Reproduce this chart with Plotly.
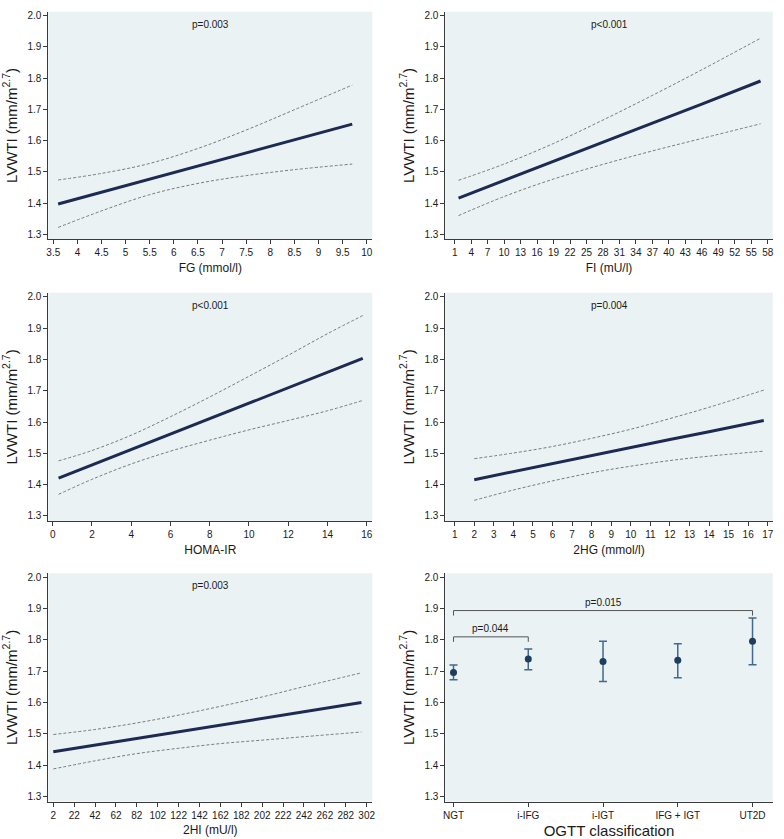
import plotly.graph_objects as go

# ---------------- data ----------------
fg_x = [3.6, 4.5, 5.5, 6.5, 7.5, 8.5, 9.7]
fg_fit = [1.397, 1.435, 1.477, 1.519, 1.561, 1.603, 1.653]
fg_upper = [1.474, 1.495, 1.527, 1.575, 1.634, 1.699, 1.778]
fg_lower = [1.322, 1.375, 1.427, 1.463, 1.488, 1.507, 1.525]

fi_x = [1.7, 10, 19, 28, 37, 46, 56.7]
fi_fit = [1.416, 1.473, 1.534, 1.595, 1.656, 1.717, 1.791]
fi_upper = [1.473, 1.525, 1.591, 1.666, 1.745, 1.827, 1.928]
fi_lower = [1.360, 1.421, 1.477, 1.524, 1.567, 1.607, 1.654]

homa_x = [0.3, 2, 4, 6, 8, 10, 12, 14, 15.8]
homa_fit = [1.421, 1.463, 1.512, 1.562, 1.611, 1.660, 1.709, 1.759, 1.803]
homa_upper = [1.476, 1.509, 1.558, 1.617, 1.680, 1.746, 1.813, 1.882, 1.940]
homa_lower = [1.369, 1.417, 1.466, 1.507, 1.542, 1.575, 1.605, 1.636, 1.669]

hg2_x = [2, 4, 6, 8, 10, 12, 14, 16.8]
hg2_fit = [1.416, 1.442, 1.467, 1.493, 1.518, 1.544, 1.569, 1.605]
hg2_upper = [1.483, 1.501, 1.522, 1.548, 1.577, 1.611, 1.647, 1.702]
hg2_lower = [1.350, 1.383, 1.412, 1.438, 1.459, 1.477, 1.491, 1.507]

hi2_x = [2, 42, 82, 122, 162, 202, 242, 297]
hi2_fit = [1.443, 1.464, 1.486, 1.507, 1.528, 1.549, 1.571, 1.600]
hi2_upper = [1.498, 1.514, 1.535, 1.560, 1.588, 1.618, 1.651, 1.695]
hi2_lower = [1.388, 1.414, 1.437, 1.454, 1.469, 1.480, 1.491, 1.506]

ogtt_groups = ["NGT", "i-IFG", "i-IGT", "IFG + IGT", "UT2D"]
ogtt_mean = [1.696, 1.739, 1.731, 1.735, 1.796]
ogtt_upper = [1.720, 1.771, 1.796, 1.788, 1.870]
ogtt_lower = [1.673, 1.705, 1.667, 1.679, 1.721]

# comparison brackets: (from, to, label, height)
brackets = [("NGT", "i-IFG", "p=0.044", 1.810),
            ("NGT", "UT2D", "p=0.015", 1.894)]

p_values = ["p=0.003", "p<0.001", "p<0.001", "p=0.004", "p=0.003"]
x_titles = ["FG (mmol/l)", "FI (mU/l)", "HOMA-IR", "2HG (mmol/l)", "2HI (mU/l)",
            "OGTT classification"]
y_title = "LVWTI (mm/m<sup>2.7</sup>)"
y_ticks = [1.3, 1.4, 1.5, 1.6, 1.7, 1.8, 1.9, 2.0]

x_tickvals = [
    [3.5, 4, 4.5, 5, 5.5, 6, 6.5, 7, 7.5, 8, 8.5, 9, 9.5, 10],
    list(range(1, 59, 3)),
    list(range(0, 17, 2)),
    list(range(1, 18, 1)),
    list(range(2, 303, 20)),
]
x_ranges = [[3.396, 10.116], [-0.71, 58.91], [-0.224, 16.286], [0.52, 17.256],
            [-2.79, 307.4], [-0.11, 4.27]]

series = [
    (fg_x, fg_fit, fg_upper, fg_lower),
    (fi_x, fi_fit, fi_upper, fi_lower),
    (homa_x, homa_fit, homa_upper, homa_lower),
    (hg2_x, hg2_fit, hg2_upper, hg2_lower),
    (hi2_x, hi2_fit, hi2_upper, hi2_lower),
]

# ---------------- layout geometry (pixels) ----------------
W, H = 784, 839
px_cols = [(48.3, 372.3), (445.3, 772.7)]
px_rows = [(11.7, 239.3), (292.7, 521.0), (573.3, 801.5)]

BG = "#eaf2f3"
LINE_C = "#1d2a52"
DASH_C = "#7a7a7a"
AX_C = "#3a3a3a"
FONT = "Liberation Sans, Arial, sans-serif"

fig = go.Figure()
layout = dict(width=W, height=H, margin=dict(l=0, r=0, t=0, b=0),
              paper_bgcolor="white", plot_bgcolor=BG, showlegend=False,
              font=dict(family=FONT, color="#1a1a1a", size=10))
annotations = []

for i in range(6):
    r, c = divmod(i, 2)
    n = "" if i == 0 else str(i + 1)
    xd = [px_cols[c][0] / W, px_cols[c][1] / W]
    yd = [1 - px_rows[r][1] / H, 1 - px_rows[r][0] / H]
    xa = dict(domain=xd, anchor="y" + n, range=x_ranges[i], showline=True,
              linecolor=AX_C, linewidth=1, ticks="outside", ticklen=4,
              tickcolor=AX_C, tickfont=dict(size=10, color="#1a1a1a"),
              showgrid=False, zeroline=False, automargin=False,
              title=dict(text=x_titles[i], font=dict(size=12 if i < 5 else 15,
                                                     color="#1a1a1a"),
                         standoff=6 if i < 5 else 6))
    if i < 5:
        xa.update(tickmode="array", tickvals=x_tickvals[i],
                  ticktext=[("%g" % v) for v in x_tickvals[i]])
    else:
        xa.update(type="category", categoryorder="array",
                  categoryarray=ogtt_groups)
    ya = dict(domain=yd, anchor="x" + n, range=[1.284, 2.013], showline=True,
              linecolor=AX_C, linewidth=1, ticks="outside", ticklen=4,
              tickcolor=AX_C, tickfont=dict(size=10, color="#1a1a1a"),
              tickmode="array", tickvals=y_ticks,
              ticktext=["%.1f" % v for v in y_ticks],
              showgrid=False, zeroline=False, automargin=False,
              title=dict(text=y_title, font=dict(size=15, color="#1a1a1a"),
                         standoff=6))
    layout["xaxis" + n] = xa
    layout["yaxis" + n] = ya

    if i < 5:
        x, fit, up, lo = series[i]
        for ys in (up, lo):
            fig.add_trace(go.Scatter(x=x, y=ys, mode="lines", xaxis="x" + n,
                                     yaxis="y" + n, line=dict(color=DASH_C,
                                     width=1, dash="3px,2px"),
                                     line_shape="spline", hoverinfo="skip"))
        fig.add_trace(go.Scatter(x=x, y=fit, mode="lines", xaxis="x" + n,
                                 yaxis="y" + n,
                                 line=dict(color=LINE_C, width=3)))
        annotations.append(dict(text=p_values[i], xref="x%s domain" % n,
                                yref="y" + n, x=0.5, y=1.973, showarrow=False,
                                font=dict(size=10, color="#1a1a1a")))
    else:
        err_up = [u - m for u, m in zip(ogtt_upper, ogtt_mean)]
        err_lo = [m - l for m, l in zip(ogtt_mean, ogtt_lower)]
        for a, b, lab, h in brackets:
            ia, ib = ogtt_groups.index(a), ogtt_groups.index(b)
            fig.add_trace(go.Scatter(
                x=[a, a, b, b], y=[h - 0.016, h, h, h - 0.016],
                mode="lines", xaxis="x" + n, yaxis="y" + n,
                line=dict(color="#555555", width=1), hoverinfo="skip"))
            annotations.append(dict(text=lab, xref="x" + n, yref="y" + n,
                                    x=(ia + ib) / 2, y=h + 0.026,
                                    showarrow=False,
                                    font=dict(size=10, color="#1a1a1a")))
        fig.add_trace(go.Scatter(
            x=ogtt_groups, y=ogtt_mean, mode="markers", xaxis="x" + n,
            yaxis="y" + n,
            marker=dict(color="#1f3d5f", size=7),
            error_y=dict(type="data", array=err_up, arrayminus=err_lo,
                         color="#426a8c", thickness=1.5, width=4)))

layout["annotations"] = annotations
fig.update_layout(**layout)
fig.write_html(
    "out.html",
    config={"displayModeBar": False},
    post_script="document.body.style.margin='0';"
                "document.body.style.overflow='hidden';",
)
